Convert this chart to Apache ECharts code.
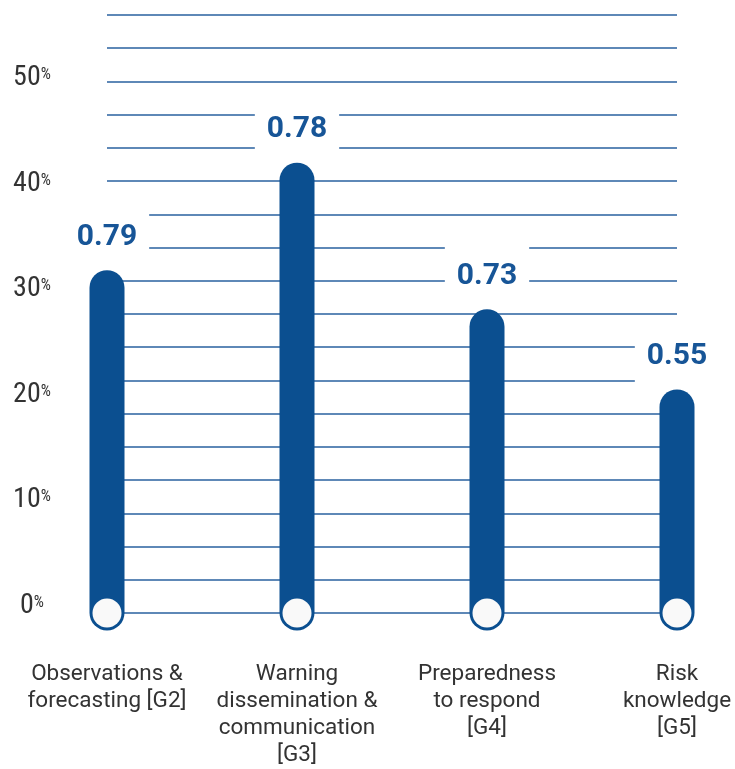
<!DOCTYPE html>
<html>
<head>
<meta charset="utf-8">
<script src="https://cdn.jsdelivr.net/npm/echarts@6/dist/echarts.min.js"></script>
<style>
  html, body { margin: 0; padding: 0; background: #fff; }
  #chart { width: 735px; height: 769px; }
</style>
</head>
<body>
<div id="chart"></div>
<script>
// categories (x axis)
const categories = [
  'Observations &\nforecasting [G2]',
  'Warning\ndissemination &\ncommunication\n[G3]',
  'Preparedness\nto respond\n[G4]',
  'Risk\nknowledge\n[G5]'
]
// bar heights, read against the % axis
const barValues = [31.8, 42.0, 28.1, 20.5]
// scores printed above the bars
const scores = ['0.79', '0.78', '0.73', '0.55']
// y axis tick labels
const yTicks = [0, 10, 20, 30, 40, 50]

const AXIS_MIN = -0.7
const AXIS_MAX = 56
const BAR_COLOR = '#0b4f90'
const LINE_COLOR = '#28609f'
const LABEL_COLOR = '#175597'
const NARROW = "'Roboto Condensed', 'Liberation Sans Narrow', 'DejaVu Sans Condensed', Roboto, sans-serif"

const chart = echarts.init(document.getElementById('chart'))

const option = {
  backgroundColor: '#fff',
  animation: false,
  grid: { left: 107, right: 58, top: 15, bottom: 156 },
  xAxis: {
    type: 'category',
    data: categories,
    boundaryGap: false,
    axisLine: { show: false },
    axisTick: { show: false },
    axisLabel: {
      interval: 0,
      margin: 48,
      color: '#333',
      fontFamily: 'Roboto',
      fontSize: 22.5,
      lineHeight: 27,
      align: 'center'
    }
  },
  yAxis: [
    {
      type: 'value',
      min: AXIS_MIN,
      max: AXIS_MAX,
      axisLine: { show: false },
      axisTick: { show: false },
      splitLine: { show: false },
      axisLabel: {
        customValues: yTicks,
        margin: 75,
        align: 'center',
        formatter: (v) => '{n|' + v + '}{p|%}',
        rich: {
          n: { fontFamily: NARROW, fontSize: 28, color: '#333', lineHeight: 22 },
          p: { fontFamily: NARROW, fontSize: 16, color: '#333', lineHeight: 14, verticalAlign: 'top' }
        }
      }
    },
    {
      // decorative ruled lines
      type: 'value',
      min: 0,
      max: 18,
      interval: 1,
      position: 'right',
      axisLine: { show: false },
      axisTick: { show: false },
      axisLabel: { show: false },
      splitLine: { show: true, lineStyle: { color: LINE_COLOR, width: 1.5 } }
    }
  ],
  series: [
    {
      type: 'custom',
      yAxisIndex: 0,
      data: barValues.map((v, i) => [i, v]),
      renderItem: (params, api) => {
        const top = api.coord([api.value(0), api.value(1)])
        const base = api.coord([api.value(0), AXIS_MIN])
        const w = 35
        return {
          type: 'group',
          children: [
            {
              type: 'rect',
              shape: { x: top[0] - w / 2, y: top[1], width: w, height: base[1] + w / 2 - top[1], r: w / 2 },
              style: { fill: BAR_COLOR }
            },
            {
              type: 'circle',
              shape: { cx: base[0], cy: base[1], r: 14.5 },
              style: { fill: '#f9f9f9' }
            }
          ]
        }
      }
    },
    {
      type: 'scatter',
      yAxisIndex: 0,
      symbolSize: 0,
      itemStyle: { opacity: 1 },
      data: barValues.map((v, i) => [i, v]),
      label: {
        show: true,
        position: 'top',
        distance: 3,
        formatter: (p) => scores[p.dataIndex],
        color: LABEL_COLOR,
        opacity: 1,
        fontFamily: 'Roboto',
        fontWeight: 'bold',
        fontSize: 30,
        lineHeight: 30,
        backgroundColor: '#fff',
        padding: [15, 12]
      }
    }
  ]
}

chart.setOption(option)
</script>
</body>
</html>
